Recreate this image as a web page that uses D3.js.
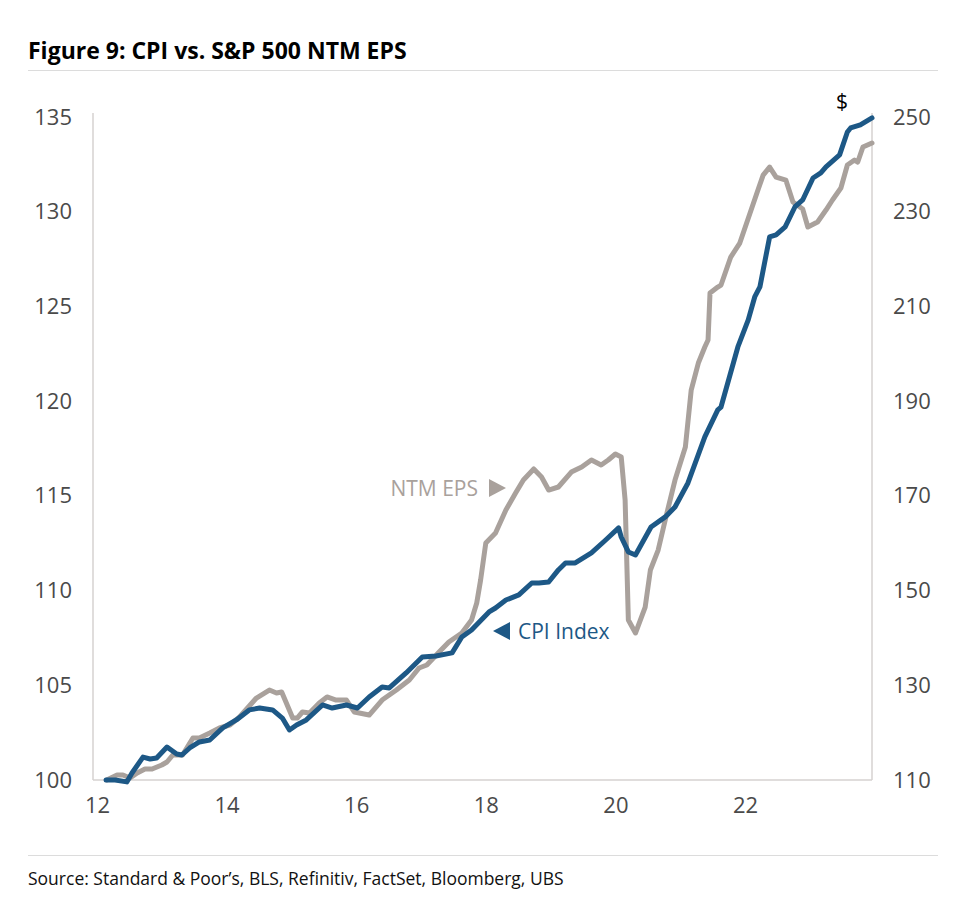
<!DOCTYPE html>
<html><head><meta charset="utf-8">
<script src="https://cdn.jsdelivr.net/npm/d3@7"></script>
<style>
body{margin:0;background:#fff;}
text{font-family:"Open Sans","Noto Sans",sans-serif;}
</style></head>
<body>
<svg id="chart" width="960" height="906"></svg>
<script>
// ---- data (decimal years) ----
const cpiDates = [2012.14,2012.28,2012.46,2012.54,2012.71,2012.82,2012.92,2013.08,2013.23,2013.31,2013.43,2013.58,2013.74,2013.94,2014.15,2014.35,2014.51,2014.71,2014.86,2014.97,2015.08,2015.23,2015.48,2015.63,2015.85,2016.02,2016.20,2016.40,2016.51,2016.77,2017.02,2017.23,2017.48,2017.63,2017.78,2018.05,2018.15,2018.31,2018.51,2018.71,2018.82,2018.97,2019.12,2019.23,2019.38,2019.63,2019.85,2020.05,2020.09,2020.20,2020.31,2020.55,2020.77,2020.92,2021.12,2021.38,2021.58,2021.63,2021.89,2022.05,2022.15,2022.23,2022.38,2022.48,2022.62,2022.77,2022.89,2023.05,2023.17,2023.25,2023.46,2023.58,2023.63,2023.78,2023.96];
const cpiValues = [100.0,100.0,99.9,100.37,101.21,101.11,101.16,101.74,101.37,101.32,101.69,102.01,102.11,102.75,103.17,103.70,103.80,103.70,103.27,102.64,102.90,103.17,103.96,103.80,103.96,103.80,104.38,104.91,104.86,105.65,106.49,106.55,106.71,107.55,107.92,108.87,109.08,109.50,109.77,110.40,110.40,110.45,111.09,111.46,111.46,111.99,112.67,113.31,112.83,112.04,111.88,113.36,113.89,114.41,115.68,118.11,119.54,119.69,122.86,124.29,125.50,126.03,128.67,128.78,129.20,130.25,130.62,131.78,132.05,132.37,133.00,134.21,134.42,134.58,134.95];

const epsDates = [2012.15,2012.31,2012.40,2012.51,2012.62,2012.74,2012.85,2013.00,2013.08,2013.17,2013.32,2013.48,2013.58,2013.74,2013.89,2014.05,2014.20,2014.46,2014.66,2014.77,2014.85,2015.02,2015.09,2015.17,2015.28,2015.43,2015.55,2015.69,2015.85,2015.97,2016.20,2016.40,2016.62,2016.82,2016.97,2017.09,2017.28,2017.43,2017.63,2017.78,2017.86,2017.92,2018.00,2018.15,2018.31,2018.46,2018.58,2018.74,2018.86,2018.97,2019.12,2019.32,2019.48,2019.63,2019.78,2019.89,2020.00,2020.09,2020.15,2020.20,2020.31,2020.46,2020.54,2020.66,2020.78,2020.92,2021.08,2021.17,2021.28,2021.38,2021.43,2021.46,2021.58,2021.63,2021.78,2021.92,2022.20,2022.28,2022.38,2022.48,2022.63,2022.74,2022.89,2022.97,2023.12,2023.25,2023.35,2023.48,2023.58,2023.69,2023.74,2023.82,2023.96];
const epsValues = [110.0,111.06,111.06,110.42,111.48,112.32,112.32,113.17,113.80,115.28,115.28,118.87,118.87,119.92,120.98,121.61,123.30,127.31,129.00,128.37,128.58,123.09,123.09,124.36,124.15,126.26,127.53,126.89,126.89,124.36,123.72,126.89,129.00,131.11,133.65,134.28,137.03,139.14,141.04,143.78,147.37,152.23,160.04,162.15,167.01,170.60,173.34,175.67,173.98,171.23,171.87,175.03,176.09,177.57,176.51,177.57,178.83,178.20,169.12,143.78,141.04,146.53,154.34,158.56,165.53,173.34,180.31,192.35,198.05,201.43,202.91,212.83,214.10,214.52,220.43,223.39,234.58,237.74,239.43,237.32,236.69,232.04,230.58,226.77,227.82,230.35,232.47,235.00,239.86,240.91,240.49,243.66,244.50];

const xTicks = [2012,2014,2016,2018,2020,2022];
const xTickLabels = ["12","14","16","18","20","22"];
const leftTicks = [100,105,110,115,120,125,130,135];
const rightTicks = [110,130,150,170,190,210,230,250];

const title = "Figure 9: CPI vs. S&P 500 NTM EPS";
const source = "Source: Standard & Poor\u2019s, BLS, Refinitiv, FactSet, Bloomberg, UBS";

// ---- layout ----
const svg = d3.select("#chart");
const L = 93, R = 872, T = 117, B = 780;
const cpiColor = "#1d5886", epsColor = "#a9a19c", axisColor = "#d6d2d0", tickColor = "#4a4a4a";

const x = d3.scaleLinear().domain([2012, 2023.96]).range([97, R]);
const yL = d3.scaleLinear().domain([100, 135]).range([B, T]);
const yR = d3.scaleLinear().domain([110, 250]).range([B, T]);

// title + rules
svg.append("text").attr("x", 28).attr("y", 59).attr("font-size", 23).attr("font-weight", 700)
  .attr("fill", "#000").text(title);
svg.append("line").attr("x1", 28).attr("x2", 938).attr("y1", 70.5).attr("y2", 70.5)
  .attr("stroke", "#dcdcdc").attr("stroke-width", 1.2);
svg.append("line").attr("x1", 28).attr("x2", 938).attr("y1", 855.5).attr("y2", 855.5)
  .attr("stroke", "#dcdcdc").attr("stroke-width", 1.2);
svg.append("text").attr("x", 28).attr("y", 885).attr("font-size", 17.5).attr("fill", "#111").text(source);

// axes frame
const frame = svg.append("g").attr("stroke", axisColor).attr("stroke-width", 1.5);
frame.append("line").attr("x1", L).attr("x2", L).attr("y1", 113).attr("y2", B);
frame.append("line").attr("x1", R).attr("x2", R).attr("y1", 113).attr("y2", B);
frame.append("line").attr("x1", L).attr("x2", R).attr("y1", B).attr("y2", B);

// left axis
const gl = svg.append("g").attr("transform", `translate(${L},0)`)
  .call(d3.axisLeft(yL).tickValues(leftTicks).tickSize(0).tickPadding(21));
gl.select(".domain").remove();
gl.selectAll("text").attr("font-size", 22).attr("fill", tickColor).attr("font-family", "Open Sans");

// right axis
const gr = svg.append("g").attr("transform", `translate(${R},0)`)
  .call(d3.axisRight(yR).tickValues(rightTicks).tickSize(0).tickPadding(21));
gr.select(".domain").remove();
gr.selectAll("text").attr("font-size", 22).attr("fill", tickColor).attr("font-family", "Open Sans");

// x axis
const gx = svg.append("g").attr("transform", `translate(0,${B})`)
  .call(d3.axisBottom(x).tickValues(xTicks).tickSize(0).tickPadding(17)
    .tickFormat((d, i) => xTickLabels[i]));
gx.select(".domain").remove();
gx.selectAll("text").attr("font-size", 22).attr("fill", tickColor).attr("font-family", "Open Sans");

// lines
const cpiData = cpiDates.map((d, i) => [d, cpiValues[i]]);
const epsData = epsDates.map((d, i) => [d, epsValues[i]]);

svg.append("path").datum(epsData)
  .attr("fill", "none").attr("stroke", epsColor).attr("stroke-width", 5)
  .attr("stroke-linejoin", "round").attr("stroke-linecap", "round")
  .attr("d", d3.line().x(d => x(d[0])).y(d => yR(d[1])));

svg.append("path").datum(cpiData)
  .attr("fill", "none").attr("stroke", cpiColor).attr("stroke-width", 5)
  .attr("stroke-linejoin", "round").attr("stroke-linecap", "round")
  .attr("d", d3.line().x(d => x(d[0])).y(d => yL(d[1])));

// annotations
svg.append("text").attr("x", 478).attr("y", 496).attr("text-anchor", "end")
  .attr("font-size", 21).attr("fill", epsColor).text("NTM EPS");
svg.append("path").attr("d", "M489,479 L506,488 L489,497 Z").attr("fill", epsColor);

svg.append("path").attr("d", "M510,622 L493,631 L510,640 Z").attr("fill", cpiColor);
svg.append("text").attr("x", 518).attr("y", 639)
  .attr("font-size", 21).attr("fill", cpiColor).text("CPI Index");

svg.append("text").attr("x", 842).attr("y", 109).attr("text-anchor", "middle")
  .attr("font-size", 21).attr("fill", "#000").text("$");
</script>
</body></html>
